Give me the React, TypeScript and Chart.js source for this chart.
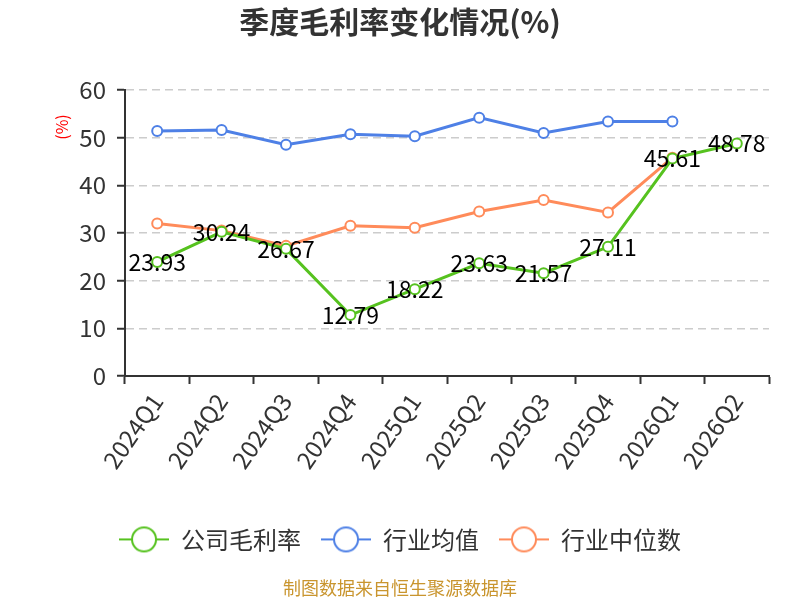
import { Chart, registerables, Plugin } from "chart.js";
import { useEffect, useRef } from "react";

Chart.register(...registerables);

const quarters = ["2024Q1", "2024Q2", "2024Q3", "2024Q4", "2025Q1", "2025Q2", "2025Q3", "2025Q4", "2026Q1", "2026Q2"];
const companyMargin = [23.93, 30.24, 26.67, 12.79, 18.22, 23.63, 21.57, 27.11, 45.61, 48.78];
const industryAvg = [51.4, 51.6, 48.5, 50.7, 50.3, 54.2, 51.0, 53.4, 53.4, null];
const industryMedian = [32.0, 30.5, 27.3, 31.5, 31.1, 34.5, 36.9, 34.3, 45.8, null];
const yTicks = [0, 10, 20, 30, 40, 50, 60];

const seriesNames = ["公司毛利率", "行业均值", "行业中位数"];
const seriesColors = ["#56c21f", "#4e80e6", "#ff8b5a"];

const FONT = '"Noto Sans CJK SC", "Noto Sans", sans-serif';

const makeMarker = (color: string) => {
  const c = document.createElement("canvas");
  c.width = 50;
  c.height = 28;
  const g = c.getContext("2d")!;
  g.strokeStyle = color;
  g.lineWidth = 2;
  g.beginPath();
  g.moveTo(0, 14);
  g.lineTo(50, 14);
  g.stroke();
  g.beginPath();
  g.arc(25, 14, 12, 0, Math.PI * 2);
  g.fillStyle = "#fff";
  g.fill();
  g.stroke();
  return c;
};

// value labels for the company series, centred on each point
const valueLabels: Plugin<"line"> = {
  id: "valueLabels",
  afterDatasetsDraw(chart) {
    const { ctx } = chart;
    const meta = chart.getDatasetMeta(0);
    ctx.save();
    ctx.font = `23px ${FONT}`;
    ctx.fillStyle = "#000";
    ctx.textAlign = "center";
    ctx.textBaseline = "middle";
    meta.data.forEach((pt, i) => {
      ctx.fillText(companyMargin[i].toFixed(2), pt.x, pt.y);
    });
    ctx.restore();
  },
};

// "(%)" unit label near the top of the y axis
const unitLabel: Plugin<"line"> = {
  id: "unitLabel",
  afterDraw(chart) {
    const { ctx, chartArea } = chart;
    ctx.save();
    ctx.translate(chartArea.left - 63, chartArea.top + 37);
    ctx.rotate(-Math.PI / 2);
    ctx.font = `16px ${FONT}`;
    ctx.fillStyle = "#f00";
    ctx.textAlign = "center";
    ctx.textBaseline = "middle";
    ctx.fillText("(%)", 0, 0);
    ctx.restore();
  },
};

const App = () => {
  const chartRef = useRef<HTMLCanvasElement>(null);
  const chartInstance = useRef<Chart | null>(null);

  useEffect(() => {
    if (!chartRef.current) return;
    const markers = seriesColors.map(makeMarker);
    const series = [companyMargin, industryAvg, industryMedian];

    chartInstance.current = new Chart(chartRef.current, {
      type: "line",
      data: {
        labels: quarters,
        datasets: series.map((data, i) => ({
          label: seriesNames[i],
          data,
          borderColor: seriesColors[i],
          backgroundColor: "#fff",
          borderWidth: 3,
          pointRadius: 5,
          pointBorderWidth: 2,
          pointBackgroundColor: "#fff",
          pointBorderColor: seriesColors[i],
          tension: 0,
          spanGaps: false,
        })),
      },
      options: {
        responsive: true,
        maintainAspectRatio: false,
        animation: false,
        layout: { padding: 0 },
        plugins: {
          title: {
            display: true,
            text: "季度毛利率变化情况(%)",
            color: "#333",
            font: { size: 30, weight: "bold", family: FONT },
            padding: { top: 4, bottom: 50 },
          },
          subtitle: {
            display: true,
            position: "bottom",
            text: "制图数据来自恒生聚源数据库",
            color: "#c9952e",
            font: { size: 18, family: FONT },
            padding: { top: 16, bottom: 1 },
          },
          legend: {
            position: "bottom",
            labels: {
              usePointStyle: true,
              pointStyleWidth: 50,
              padding: 20,
              color: "#333",
              font: { size: 24, family: FONT },
              generateLabels: (chart) =>
                Chart.defaults.plugins.legend.labels
                  .generateLabels(chart)
                  .map((item, i) => ({ ...item, pointStyle: markers[i] })),
            },
          },
          tooltip: { enabled: false },
        },
        scales: {
          x: {
            offset: true,
            grid: {
              display: true,
              drawOnChartArea: false,
              drawTicks: true,
              tickLength: 8,
              offset: true,
              color: "#333",
              tickColor: "#333",
              tickWidth: 2,
            },
            border: { display: true, color: "#333", width: 2 },
            ticks: {
              color: "#333",
              font: { size: 24, family: FONT },
              minRotation: 55,
              maxRotation: 55,
              autoSkip: false,
              padding: 4,
            },
            afterFit: (s) => {
              s.height = 131.4;
            },
          },
          y: {
            min: 0,
            max: 60,
            afterBuildTicks: (s) => {
              s.ticks = yTicks.map((v) => ({ value: v }));
            },
            ticks: { color: "#333", font: { size: 24, family: FONT }, padding: 11 },
            grid: {
              color: "#ccc",
              lineWidth: 1.5,
              tickColor: "#333",
              tickLength: 8,
              tickWidth: 2,
            },
            border: { display: true, color: "#333", width: 2, dash: [8, 5] },
            afterFit: (s) => {
              s.width = 125;
            },
          },
          yRight: {
            position: "right",
            display: true,
            grid: { display: false },
            border: { display: false },
            ticks: { display: false },
            afterFit: (s) => {
              s.width = 31;
            },
          },
        },
      },
      plugins: [valueLabels, unitLabel],
    });

    return () => {
      if (chartInstance.current) {
        chartInstance.current.destroy();
        chartInstance.current = null;
      }
    };
  }, []);

  return (
    <div style={{ position: "fixed", left: 0, top: 0, width: 800, height: 600, background: "#fff" }}>
      <canvas ref={chartRef} />
    </div>
  );
};

export default App;
